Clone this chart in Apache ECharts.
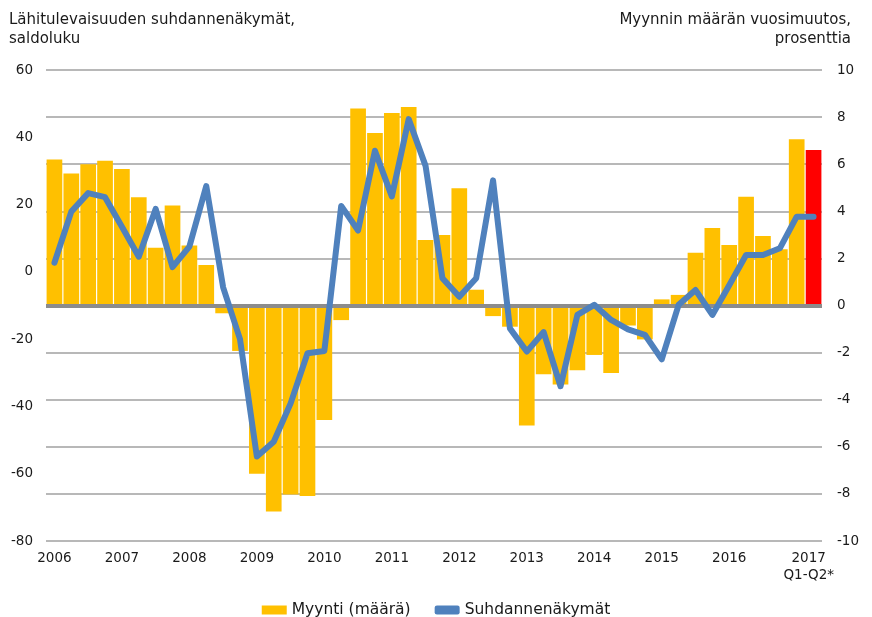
<!DOCTYPE html>
<html>
<head>
<meta charset="utf-8">
<script src="https://cdn.jsdelivr.net/npm/echarts@6/dist/echarts.min.js"></script>
<style>
html,body{margin:0;padding:0;background:#fff;}
#chart{width:872px;height:617px;}
</style>
</head>
<body>
<div id="chart"></div>
<script>
// Quarters 2006Q1 .. 2017Q2
const years = [2006,2007,2008,2009,2010,2011,2012,2013,2014,2015,2016,2017];
const quarters = [];
years.forEach(function(y){ for (let q = 1; q <= 4; q++) { if (y === 2017 && q > 2) break; quarters.push(y + 'Q' + q); } });

// Myynti (määrä), annual change %, right axis
const myynti = [
  6.2, 5.6, 6.0, 6.15, 5.8, 4.6, 2.45, 4.25,
  2.55, 1.72, -0.33, -1.93, -7.14, -8.75, -8.03, -8.09,
  -4.86, -0.62, 8.36, 7.32, 8.17, 8.43, 2.78, 2.99,
  4.98, 0.67, -0.45, -0.9, -5.1, -2.92, -3.35, -2.75,
  -2.1, -2.87, -0.85, -1.44, 0.26, 0.45, 2.24, 3.29,
  2.57, 4.62, 2.95, 2.39, 7.06, 6.6
];

// Suhdannenäkymät, balance figure, left axis
const suhdanne = [
  2.7, 17.9, 23.4, 22.2, 13.4, 4.5, 18.7, 1.4,
  7.5, 25.5, -4.6, -20.0, -54.9, -50.5, -39.1, -24.2,
  -23.5, 19.6, 12.3, 36.0, 22.4, 45.4, 31.5, -1.9,
  -7.4, -1.9, 27.2, -16.8, -23.7, -17.9, -34.0, -12.8,
  -9.8, -14.3, -17.1, -18.7, -26.0, -9.8, -5.4, -12.8,
  -4.0, 5.0, 5.0, 7.0, 16.4, 16.4
];

const leftTicks = { min: -80, max: 60, interval: 20 };
const rightTicks = { min: -10, max: 10, interval: 2 };

const leftTitle = 'Lähitulevaisuuden suhdannenäkymät,\nsaldoluku';
const rightTitle = 'Myynnin määrän vuosimuutos,\nprosenttia';
const seriesNames = ['Myynti (määrä)', 'Suhdannenäkymät'];
const lastLabel = '2017\nQ1-Q2*';

const FONT = 'DejaVu Sans';
const barData = myynti.map(function(v, i){
  return i === myynti.length - 1 ? { value: v, itemStyle: { color: '#FF0000' } } : v;
});

const chart = echarts.init(document.getElementById('chart'), null, { renderer: 'canvas' });
chart.setOption({
  animation: false,
  backgroundColor: '#ffffff',
  textStyle: { fontFamily: FONT },
  graphic: [
    { type: 'text', left: 9, top: 11,
      style: { text: leftTitle, font: '15px "DejaVu Sans"', fill: '#1a1a1a', lineHeight: 19, textAlign: 'left' } },
    { type: 'text', right: 21, top: 11,
      style: { text: rightTitle, font: '15px "DejaVu Sans"', fill: '#1a1a1a', lineHeight: 19, textAlign: 'right' } }
  ],
  legend: {
    top: 597, left: 'center',
    itemGap: 24, itemWidth: 25, itemHeight: 9,
    textStyle: { fontFamily: FONT, fontSize: 15.5, color: '#1a1a1a' },
    data: [
      { name: seriesNames[0], icon: 'rect' },
      { name: seriesNames[1], icon: 'roundRect', itemStyle: { color: '#4F81BD' } }
    ]
  },
  grid: { left: 46, right: 50, top: 70, bottom: 76, containLabel: false },
  xAxis: {
    type: 'category',
    data: quarters,
    boundaryGap: true,
    axisLine: { show: false },
    axisTick: { show: false },
    splitLine: { show: false },
    axisLabel: {
      interval: 0,
      margin: 9,
      fontFamily: FONT, fontSize: 13.5, color: '#1a1a1a', lineHeight: 17,
      formatter: function(val, idx){
        if (idx === quarters.length - 2) return '{s|' + lastLabel.split('\n')[0] + '}\n{s|' + lastLabel.split('\n')[1] + '}';
        return val.slice(4) === 'Q1' ? val.slice(0, 4) : '';
      },
      rich: { s: { fontFamily: FONT, fontSize: 13.5, color: '#1a1a1a', lineHeight: 17, padding: [0, 0, 0, 24] } }
    }
  },
  yAxis: [
    {
      type: 'value', position: 'left',
      min: leftTicks.min, max: leftTicks.max, interval: leftTicks.interval,
      axisLine: { show: false }, axisTick: { show: false },
      splitLine: { show: false },
      axisLabel: { margin: 13, fontFamily: FONT, fontSize: 13.5, color: '#1a1a1a' }
    },
    {
      type: 'value', position: 'right',
      min: rightTicks.min, max: rightTicks.max, interval: rightTicks.interval,
      axisLine: { show: false }, axisTick: { show: false },
      splitLine: { show: true, lineStyle: { color: '#a0a0a0', width: 1.6 } },
      axisLabel: { margin: 15, fontFamily: FONT, fontSize: 13.5, color: '#1a1a1a' }
    }
  ],
  series: [
    {
      name: seriesNames[0], type: 'bar', yAxisIndex: 1, xAxisIndex: 0,
      data: barData,
      barCategoryGap: '7%',
      itemStyle: { color: '#FFC000' },
      z: 2,
      markLine: {
        silent: true, symbol: 'none', label: { show: false },
        lineStyle: { color: '#8c8c8c', width: 4, type: 'solid' },
        data: [{ yAxis: 0 }],
        animation: false
      }
    },
    {
      name: seriesNames[1], type: 'line', yAxisIndex: 0,
      data: suhdanne,
      symbol: 'none',
      z: 5,
      itemStyle: { color: '#4F81BD' },
      lineStyle: { color: '#4F81BD', width: 6, cap: 'round', join: 'round' }
    }
  ]
});
</script>
</body>
</html>
